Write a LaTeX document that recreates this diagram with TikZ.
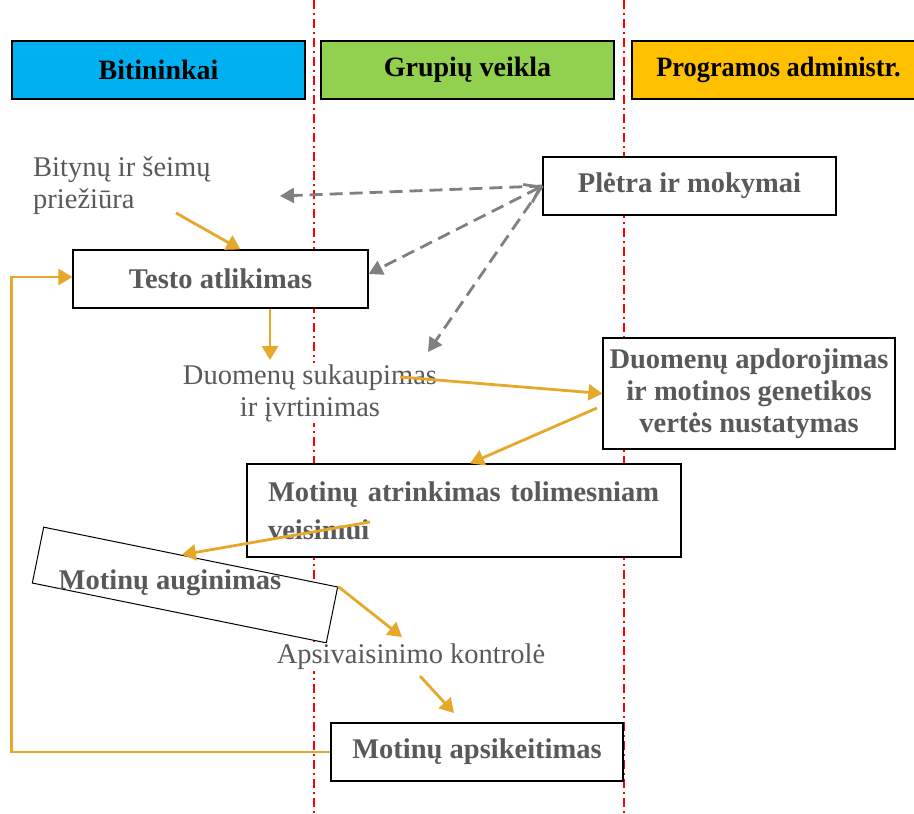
\documentclass[tikz,border=0pt]{standalone}
\usepackage{fontspec}
\setmainfont{Liberation Serif}
\usetikzlibrary{arrows.meta,calc}
\definecolor{txtgray}{HTML}{595959}
\definecolor{arrgray}{HTML}{808080}
\definecolor{orng}{HTML}{E6A82A}
\definecolor{hblue}{HTML}{00B0F0}
\definecolor{hgreen}{HTML}{92D050}
\definecolor{hyellow}{HTML}{FFC000}
\definecolor{divred}{RGB}{255,0,0}
\begin{document}
\begin{tikzpicture}[x=1pt,y=-1pt,
  hdr/.style={draw=black, line width=1.2pt, minimum width=293pt, minimum height=58pt, inner sep=0pt, font=\fontsize{28}{33}\selectfont\bfseries, text=black},
  box/.style={draw=black, line width=1.2pt, fill=white, inner sep=0pt, font=\fontsize{28.5}{32}\selectfont\bfseries, text=txtgray, align=center},
  plain/.style={inner sep=1pt, fill=white, font=\fontsize{28.5}{32}\selectfont, text=txtgray},
  garrow/.style={draw=arrgray, line width=2.8pt, dash pattern=on 13pt off 7pt, -{Triangle[length=14pt,width=15pt]}},
  oarrow/.style={draw=orng, line width=2.8pt, -{Triangle[length=14pt,width=16pt]}},
  divider/.style={draw=divred, line width=2pt, dash pattern=on 9pt off 4pt on 2pt off 4pt}
]
\useasboundingbox (0,0) rectangle (914,814);
\fill[white] (0,0) rectangle (914,814);
% lane dividers
\coordinate (d1t) at (313.5,0);
\coordinate (d1b) at (313.5,814);
\coordinate (d2t) at (623.5,0);
\coordinate (d2b) at (623.5,814);
\draw[divider] (d1t) -- (d1b);
\draw[divider] (d2t) -- (d2b);
% headers
\node[hdr, fill=hblue] (h1) at (158.5,70) {Bitininkai};
\node[hdr, fill=hgreen] (h2) at (467.5,70) {Grupių veikla};
\node[hdr, fill=hyellow] (h3) at (778.5,70) {\scalebox{0.94}[1]{Programos administr.}};
% nodes
\node[plain, align=left, anchor=west] (bit) at (32,186) {Bitynų ir šeimų\\priežiūra};
\node[box, minimum width=293pt, minimum height=58pt] (plt) at (689.5,186) {Plėtra ir mokymai};
\node[box, minimum width=295pt, minimum height=58pt] (testo) at (220.5,279) {Testo atlikimas};
\node[plain, align=center] (duk) at (310,393) {Duomenų sukaupimas\\ir įvrtinimas};
\node[box, minimum width=292pt, minimum height=111pt] (dap) at (749,393.5) {Duomenų apdorojimas\\ir motinos genetikos\\vertės nustatymas};
\node[box, align=left, text width=392pt, inner xsep=21pt, minimum height=93pt, font=\fontsize{28.5}{38}\selectfont\bfseries] (atr) at (464,510.5) {Motinų atrinkimas tolimesniam\\veisimui};
\node[draw=black, line width=1pt, fill=white, rotate=-11.5, minimum width=300pt, minimum height=57pt, inner sep=0pt] (aug) at (185,585) {};
\node[inner sep=0pt, font=\fontsize{28.5}{32}\selectfont\bfseries, text=txtgray] (augt) at (170,583) {Motinų auginimas};
\node[plain] (aps) at (411,657) {Apsivaisinimo kontrolė};
\node[box, minimum width=292pt, minimum height=58pt] (apk) at (477,752) {Motinų apsikeitimas};
% free ends
\coordinate (g1) at (280,196);
\coordinate (g3) at (428,352);
\coordinate (o1s) at (176,213);
\coordinate (o2e) at (270,360);
\coordinate (o3s) at (400,377);
\coordinate (o4s) at (597,408);
\coordinate (o5s) at (370,522);
\coordinate (o6e) at (402,637);
\coordinate (o7s) at (420,676);
\coordinate (o7e) at (454,713);
% gray dashed connectors
\draw[garrow] (plt.west) -- (g1);
\draw[garrow, {Straight Barb[length=14pt,width=20pt]}-{Triangle[length=14pt,width=15pt]}] (plt.west) -- ([yshift=5pt]testo.east);
\draw[garrow] (plt.west) -- (g3);
% orange connectors
\draw[oarrow] (o1s) -- ([xshift=20pt]testo.north);
\draw[oarrow] ([xshift=49.5pt]testo.south) -- (o2e);
\draw[oarrow] (o3s) -- (dap.west);
\draw[oarrow] (o4s) -- ([xshift=6pt]atr.north);
\draw[oarrow] (o5s) -- ($(aug.north west)!0.47!(aug.north east)$);
\draw[oarrow] (aug.north east) -- (o6e);
\draw[oarrow] (o7s) -- (o7e);
\draw[oarrow] (apk.west) -- ++(-319,0) |- ([yshift=2pt]testo.west);
\end{tikzpicture}
\end{document}
